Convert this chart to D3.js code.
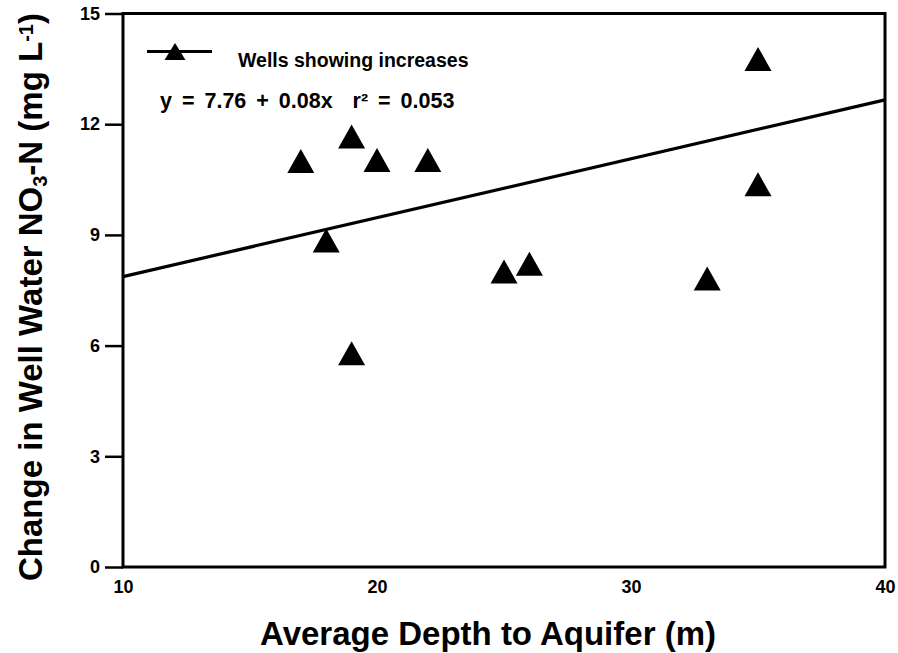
<!DOCTYPE html>
<html>
<head>
<meta charset="utf-8">
<script src="https://cdn.jsdelivr.net/npm/d3@7"></script>
<style>
  body { margin: 0; background: #fff; }
  svg { display: block; }
  text { font-family: "Liberation Sans", Arial, Helvetica, sans-serif; font-weight: bold; fill: #000; }
  .axis path.domain { display: none; }
  .axis line { stroke: #000; stroke-width: 2.5; }
  .axis text { font-size: 18px; }
</style>
</head>
<body>
<div class="chart-container"></div>
<script>
// depth to aquifer (m) and change in NO3-N (mg/L) for wells showing increases
var depth = [17, 18, 19, 19, 20, 22, 25, 26, 33, 35, 35]
var change = [11.0, 8.85, 11.67, 5.79, 11.03, 11.03, 8.01, 8.22, 7.82, 13.77, 10.37]

// fitted line as drawn on the figure (end points)
var fitX = [10, 40]
var fitY = [7.87, 12.66]

var xTicks = [10, 20, 30, 40]
var yTicks = [0, 3, 6, 9, 12, 15]

var legendLabel = "Wells showing increases"
var equationLabel = "y = 7.76 + 0.08x  r\u00b2 = 0.053"

var width = 898, height = 653
var margin = {top: 13.5, right: 13, bottom: 86, left: 123}

var x_scale = d3.scaleLinear()
    .domain([10, 40])
    .range([margin.left, width - margin.right])
var y_scale = d3.scaleLinear()
    .domain([0, 15])
    .range([height - margin.bottom, margin.top])

var svg = d3.select('.chart-container')
    .append('svg')
    .attr('width', width)
    .attr('height', height)

// y axis, ticks pointing out
svg.append('g')
    .attr('class', 'axis')
    .attr('transform', 'translate(' + margin.left + ',0)')
    .call(d3.axisLeft(y_scale).tickValues(yTicks).tickSize(18).tickPadding(5))

// x axis, labels only
svg.append('g')
    .attr('class', 'axis')
    .attr('transform', 'translate(0,' + y_scale(0) + ')')
    .call(d3.axisBottom(x_scale).tickValues(xTicks).tickSize(0).tickPadding(13))

// frame
svg.append('rect')
    .attr('x', x_scale(10))
    .attr('y', y_scale(15))
    .attr('width', x_scale(40) - x_scale(10))
    .attr('height', y_scale(0) - y_scale(15))
    .attr('fill', 'none')
    .attr('stroke', '#000')
    .attr('stroke-width', 3)

// regression line
var line = d3.line()
    .x(function(d){return x_scale(d[0])})
    .y(function(d){return y_scale(d[1])})
svg.append('path')
    .datum(d3.zip(fitX, fitY))
    .attr('d', line)
    .attr('fill', 'none')
    .attr('stroke', '#000')
    .attr('stroke-width', 3.2)

// triangle marker, centred on its bounding box
function tri(w, h) {
    return 'M0,' + (-h/2) + 'L' + (w/2) + ',' + (h/2) + 'L' + (-w/2) + ',' + (h/2) + 'Z'
}

svg.append('g')
    .selectAll('path')
    .data(d3.zip(depth, change))
    .enter()
    .append('path')
    .attr('transform', function(d){return 'translate(' + x_scale(d[0]) + ',' + y_scale(d[1]) + ')'})
    .attr('d', tri(27, 24))
    .attr('fill', '#000')

// legend
var lg = svg.append('g').attr('transform', 'translate(147,51.5)')
lg.append('line')
    .attr('x1', 0).attr('x2', 65)
    .attr('y1', 0).attr('y2', 0)
    .attr('stroke', '#000')
    .attr('stroke-width', 3)
lg.append('path')
    .attr('transform', 'translate(28,0)')
    .attr('d', tri(21, 17))
    .attr('fill', '#000')
svg.append('text')
    .attr('x', 238)
    .attr('y', 67)
    .style('font-size', '19.5px')
    .text(legendLabel)
svg.append('text')
    .attr('x', 160)
    .attr('y', 108)
    .style('font-size', '21.5px')
    .style('word-spacing', '4px')
    .attr('xml:space', 'preserve')
    .text(equationLabel)

// axis titles
svg.append('text')
    .attr('x', 488)
    .attr('y', 645)
    .attr('text-anchor', 'middle')
    .style('font-size', '33px')
    .text('Average Depth to Aquifer (m)')

var yt = svg.append('text')
    .attr('transform', 'translate(42,' + 297 + ') rotate(-90)')
    .attr('text-anchor', 'middle')
    .style('font-size', '33px')
yt.append('tspan').text('Change in Well Water NO')
yt.append('tspan').attr('baseline-shift', '-25%').style('font-size', '20px').text('3')
yt.append('tspan').text('-N (mg L')
yt.append('tspan').attr('baseline-shift', '45%').style('font-size', '20px').text('-1')
yt.append('tspan').text(')')
</script>
</body>
</html>
